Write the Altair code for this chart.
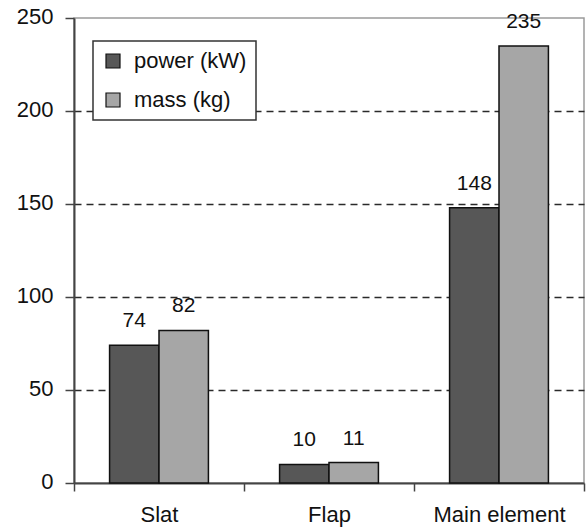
import altair as alt
import pandas as pd

categories = ["Slat", "Flap", "Main element"]
series_names = ["power (kW)", "mass (kg)"]
power_kw = [74, 10, 148]
mass_kg = [82, 11, 235]
colors = ["#575757", "#a6a6a6"]
y_ticks = [0, 50, 100, 150, 200, 250]

rows = []
for i, c in enumerate(categories):
    rows.append({"category": c, "series": series_names[0], "value": power_kw[i]})
    rows.append({"category": c, "series": series_names[1], "value": mass_kg[i]})
df = pd.DataFrame(rows)

FONT = "Liberation Sans"
AX = "#444444"
TXT = "#111111"

x = alt.X(
    "category:N",
    sort=categories,
    scale=alt.Scale(paddingInner=0, paddingOuter=0),
    axis=alt.Axis(
        title=None, labelAngle=0, tickBand="extent", tickSize=8, tickWidth=1.5,
        tickColor=AX, domainColor=AX, domainWidth=2, labelPadding=13,
        labelFont=FONT, labelFontSize=22, labelColor=TXT, grid=False,
    ),
)
xoff = alt.XOffset(
    "series:N", sort=series_names,
    scale=alt.Scale(paddingOuter=0.72, paddingInner=0),
)
y = alt.Y(
    "value:Q",
    scale=alt.Scale(domain=[0, 250], nice=False),
    axis=alt.Axis(
        title=None, values=y_ticks, tickSize=9, tickWidth=1.5, tickColor=AX,
        domainColor=AX, domainWidth=2, labelPadding=12, labelFont=FONT,
        labelFontSize=22, labelColor=TXT, labelOffset=-2,
        grid=True, gridColor="#2a2a2a", gridDash=[7, 5], gridWidth=1.4,
        gridOpacity={"condition": {"test": "datum.value >= 250 || datum.value <= 0", "value": 0}, "value": 1},
    ),
)
color = alt.Color(
    "series:N", sort=series_names,
    scale=alt.Scale(domain=series_names, range=colors),
    legend=alt.Legend(
        title=None, orient="none", legendX=19, legendY=23,
        symbolType="square", symbolSize=196, symbolStrokeColor="#111111",
        symbolStrokeWidth=1.2, labelFont=FONT, labelFontSize=22,
        labelColor=TXT, labelOffset=10, padding=9, rowPadding=17,
        strokeColor="#333333", fillColor="white",
    ),
)

bars = alt.Chart(df).mark_bar(stroke="#111111", strokeWidth=1.5).encode(
    x=x, xOffset=xoff, y=y, color=color
)
labels = alt.Chart(df).mark_text(
    dy=-18, baseline="alphabetic", fontSize=21, font=FONT, color=TXT
).encode(x=x, xOffset=xoff, y=y, text="value:Q")

chart = (
    alt.layer(bars, labels)
    .properties(
        width=510, height=465,
        padding={"left": 74, "top": 18, "right": 4, "bottom": 48},
        autosize=alt.AutoSizeParams(type="none"),
        background="white",
    )
    .configure_view(stroke="#9a9a9a", strokeWidth=1.5)
    .configure_legend(strokeWidth=1.5, cornerRadius=0)
)

chart.save("out.html", embed_options={"renderer": "svg", "actions": False})
